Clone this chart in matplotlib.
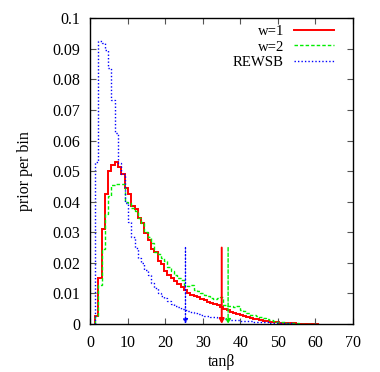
import numpy as np
import matplotlib
matplotlib.use("Agg")
import matplotlib.pyplot as plt

# ---- data ----
bin_start = 1.33
bin_width = 0.875

w1 = [0.0025, 0.015, 0.031, 0.0425, 0.050, 0.052, 0.053, 0.0512, 0.049, 0.0445,
      0.0425, 0.0387, 0.0375, 0.0346, 0.033, 0.0297, 0.0275, 0.0245, 0.0235, 0.0205,
      0.0195, 0.0172, 0.0160, 0.0150, 0.0141, 0.0131, 0.0121, 0.0112, 0.0103, 0.0095,
      0.0091, 0.0087, 0.0082, 0.0078, 0.0073, 0.0069, 0.0065, 0.0061, 0.0054, 0.0050,
      0.0045, 0.0040, 0.0036, 0.0032, 0.0028, 0.0026, 0.0023, 0.0020, 0.0017, 0.0015,
      0.0012, 0.0010, 0.0009, 0.0007, 0.0006, 0.0005, 0.0004, 0.0003, 0.0003, 0.0002,
      0.0002, 0.0001, 0.0001, 0.0001, 0.00005, 0.00005, 0.00005, 0.00005]

w2 = [0.0025, 0.0127, 0.0245, 0.036, 0.042, 0.0455, 0.0458, 0.0458, 0.0457, 0.0400,
      0.0395, 0.0378, 0.0368, 0.0346, 0.033, 0.0300, 0.0285, 0.0265, 0.0237, 0.0230,
      0.0215, 0.0205, 0.0188, 0.0174, 0.0160, 0.0150, 0.0145, 0.0128, 0.0123, 0.0128,
      0.0112, 0.0108, 0.0101, 0.0095, 0.0092, 0.0086, 0.0082, 0.0085, 0.0088, 0.0063,
      0.0060, 0.0058, 0.0054, 0.0058, 0.0045, 0.0041, 0.0036, 0.0031, 0.0030, 0.0026,
      0.0022, 0.0019, 0.0016, 0.0012, 0.0010, 0.0008, 0.0006, 0.0005, 0.0004, 0.0003,
      0.0002, 0.0002, 0.0001, 0.0001, 0.0001, 0.00005, 0.00005, 0.00005]

rewsb = [0.053, 0.0927, 0.0920, 0.0896, 0.0837, 0.0732, 0.0626, 0.0528, 0.0490, 0.0395,
         0.0335, 0.0285, 0.0250, 0.0217, 0.0200, 0.0177, 0.0160, 0.0134, 0.0118, 0.0101,
         0.0092, 0.0085, 0.0074, 0.0066, 0.0060, 0.0055, 0.0050, 0.0047, 0.0042, 0.0038,
         0.0035, 0.0033, 0.0030, 0.0027, 0.0025, 0.0024, 0.0022, 0.0021, 0.0020, 0.0018,
         0.0016, 0.0014, 0.0013, 0.0012, 0.0011, 0.0010, 0.0009, 0.0009, 0.0008, 0.0007,
         0.0006, 0.0006, 0.0005, 0.0004, 0.0004, 0.0003, 0.0003, 0.0002, 0.0002, 0.0002,
         0.0001, 0.0001]

series_labels = ["w=1", "w=2", "REWSB"]
marker_x = [35.05, 36.75, 25.4]      # arrow positions (tanβ)
marker_top = 0.025

xticks = [0, 10, 20, 30, 40, 50, 60, 70]
yticks = [0, 0.01, 0.02, 0.03, 0.04, 0.05, 0.06, 0.07, 0.08, 0.09, 0.1]
ytick_labels = ["0", "0.01", "0.02", "0.03", "0.04", "0.05", "0.06", "0.07", "0.08", "0.09", "0.1"]

# ---- plot ----
plt.rcParams['font.family'] = ['Liberation Serif', 'DejaVu Serif']
plt.rcParams['font.size'] = 11.5

fig = plt.figure(figsize=(3.80, 3.72), dpi=100)
ax = fig.add_axes([0.237, 0.129, 0.692, 0.822])

colors = ["#ff0000", "#00ee00", "#0000ff"]
styles = ["-", (0, (2.5, 1.5)), (0, (1, 1.5))]
widths = [1.4, 1.0, 1.0]

for vals, c, ls, lw, lab in zip([w1, w2, rewsb], colors, styles, widths, series_labels):
    n = len(vals)
    edges = bin_start + bin_width * np.arange(n + 1)
    ax.stairs(vals, edges, baseline=0, fill=False, color=c, linestyle=ls,
              linewidth=lw, label=lab)

for mx, c, ls, lw in zip(marker_x, colors, styles, widths):
    ax.annotate("", xy=(mx, 0), xytext=(mx, marker_top),
                arrowprops=dict(arrowstyle='-|>', color=c, lw=lw, linestyle=ls,
                                shrinkA=0, shrinkB=0, mutation_scale=7))

ax.set_xlim(0, 70)
ax.set_ylim(0, 0.1)
ax.set_xticks(xticks)
ax.set_yticks(yticks)
ax.set_yticklabels(ytick_labels)
ax.tick_params(direction='in', top=True, right=True, length=4, width=0.8,
               color='#555555', pad=7)
ax.tick_params(axis='x', pad=8)
for s in ax.spines.values():
    s.set_linewidth(1.0)

ax.set_xlabel("tanβ", labelpad=2)
ax.set_ylabel("prior per bin", labelpad=14)

leg = ax.legend(loc='upper right', bbox_to_anchor=(0.928, 0.978),
                markerfirst=False, frameon=False, borderpad=0,
                handlelength=2.75, handletextpad=0.65, labelspacing=0.14,
                borderaxespad=0.0, fontsize=10.6)
for t in leg.get_texts():
    t.set_ha('right')
leg._legend_box.align = "right"

fig.savefig("out.png", dpi=100)
